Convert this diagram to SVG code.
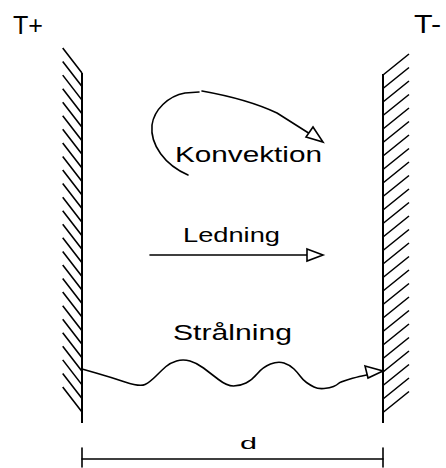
<svg xmlns="http://www.w3.org/2000/svg" width="446" height="468" viewBox="0 0 446 468">
<style>
.ln{fill:none;stroke:#000;stroke-width:1.6;stroke-linejoin:round;stroke-linecap:round}
.wall{fill:none;stroke:#000;stroke-width:2}
.hatch{fill:none;stroke:#000;stroke-width:1.6}
.ah{fill:#fff;stroke:#000;stroke-width:1.6;stroke-linejoin:miter}
.t{font-family:"Liberation Sans",Arial,sans-serif;fill:#000}
</style>
<rect width="446" height="468" fill="#fff"/>
<g id="wall-left">
<line class="wall" x1="82" y1="73" x2="82" y2="423"/>
<path class="hatch" d="M62.7,48 l19.3,25 m-19.3,-11.44 l19.3,25 m-19.3,-11.44 l19.3,25 m-19.3,-11.44 l19.3,25 m-19.3,-11.44 l19.3,25 m-19.3,-11.44 l19.3,25 m-19.3,-11.44 l19.3,25 m-19.3,-11.44 l19.3,25 m-19.3,-11.44 l19.3,25 m-19.3,-11.44 l19.3,25 m-19.3,-11.44 l19.3,25 m-19.3,-11.44 l19.3,25 m-19.3,-11.44 l19.3,25 m-19.3,-11.44 l19.3,25 m-19.3,-11.44 l19.3,25 m-19.3,-11.44 l19.3,25 m-19.3,-11.44 l19.3,25 m-19.3,-11.44 l19.3,25 m-19.3,-11.44 l19.3,25 m-19.3,-11.44 l19.3,25 m-19.3,-11.44 l19.3,25 m-19.3,-11.44 l19.3,25 m-19.3,-11.44 l19.3,25 m-19.3,-11.44 l19.3,25 m-19.3,-11.44 l19.3,25 m-19.3,-11.44 l19.3,25"/>
</g>
<g id="wall-right">
<line class="wall" x1="383" y1="74" x2="383" y2="423"/>
<path class="hatch" d="M383,75 l26,-21 m-26,34.5 l26,-21 m-26,34.5 l26,-21 m-26,34.5 l26,-21 m-26,34.5 l26,-21 m-26,34.5 l26,-21 m-26,34.5 l26,-21 m-26,34.5 l26,-21 m-26,34.5 l26,-21 m-26,34.5 l26,-21 m-26,34.5 l26,-21 m-26,34.5 l26,-21 m-26,34.5 l26,-21 m-26,34.5 l26,-21 m-26,34.5 l26,-21 m-26,34.5 l26,-21 m-26,34.5 l26,-21 m-26,34.5 l26,-21 m-26,34.5 l26,-21 m-26,34.5 l26,-21 m-26,34.5 l26,-21 m-26,34.5 l26,-21 m-26,34.5 l26,-21 m-26,34.5 l26,-21 m-26,34.5 l26,-21 m-26,34.5 l26,-21"/>
</g>
<g id="labels-temp">
<text class="t" x="13" y="34" font-size="25" textLength="30" lengthAdjust="spacingAndGlyphs">T+</text>
<text class="t" x="414" y="33" font-size="25" textLength="27" lengthAdjust="spacingAndGlyphs">T-</text>
</g>
<g id="konvektion">
<path class="ln" d="M188,175 C165,165 150,145 152,125 C154,110 168,96 185,93 L199,92"/>
<path class="ln" d="M202,91 C230,96 258,104 277,113 L318,139"/>
<polygon class="ah" points="306,137 323,142 313,127"/>
<text class="t" x="175" y="162" font-size="22" textLength="147" lengthAdjust="spacingAndGlyphs">Konvektion</text>
</g>
<g id="ledning">
<line class="ln" x1="150" y1="255" x2="307" y2="255"/>
<polygon class="ah" points="307,249 323,255 307,261"/>
<text class="t" x="183" y="242" font-size="21" textLength="97" lengthAdjust="spacingAndGlyphs">Ledning</text>
</g>
<g id="stralning">
<path class="ln" d="M82,369 L96,373 Q110,377 125,382 Q140,387 145,384.5 Q150,382 156,376 Q162,370 166,366.5 Q170,363 176.5,361 Q183,359 190,361 Q197,363 203.5,368 Q210,373 218.5,379.5 Q227,386 233.5,386 Q240,386 246,383 Q252,380 257.5,373.5 Q263,367 270.5,364 Q278,361 284,363 Q290,365 294,369 Q298,373 300.5,376.5 Q303,380 306.5,382.5 Q310,385 314,387 Q318,389 324,388.5 Q330,388 333.5,386.5 Q337,385 338.5,383.5 Q340,382 348.5,379.5 Q357,377 362,376 Q367,375 375,373 L383,371"/>
<polygon class="ah" points="365,366 383,371 368,378"/>
<text class="t" x="173" y="340" font-size="22" textLength="119" lengthAdjust="spacingAndGlyphs">Strålning</text>
</g>
<g id="dimension">
<line class="ln" x1="82" y1="459" x2="383" y2="459"/>
<line class="ln" x1="82" y1="448" x2="82" y2="467"/>
<line class="ln" x1="383" y1="448" x2="383" y2="467"/>
<text class="t" x="240" y="449" font-size="17" textLength="17" lengthAdjust="spacingAndGlyphs">d</text>
</g>
</svg>
